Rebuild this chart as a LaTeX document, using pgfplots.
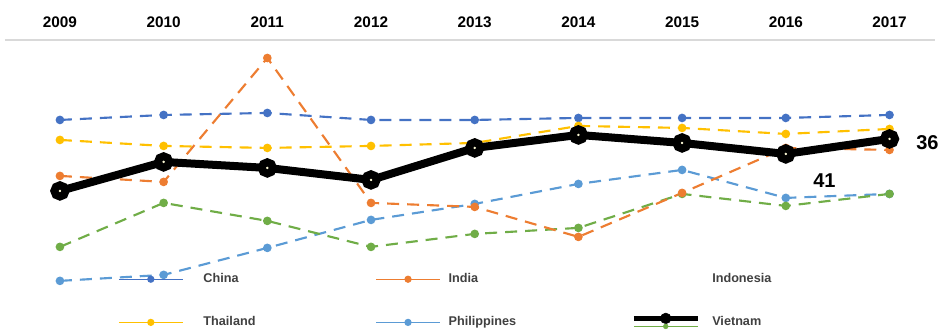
\documentclass[border=0pt]{standalone}
\usepackage{pgfplots}
\pgfplotsset{compat=1.18}
\usepackage{pgfplotstable}
\usepackage{fontspec}
\setmainfont{Liberation Sans}
\definecolor{cChina}{HTML}{4472C4}
\definecolor{cIndia}{HTML}{ED7D31}
\definecolor{cThai}{HTML}{FFC000}
\definecolor{cPhil}{HTML}{5B9BD5}
\definecolor{cViet}{HTML}{70AD47}
\definecolor{legtext}{HTML}{404040}
\pgfplotstableread{
year China India Thailand Philippines Vietnam Indonesia
2009 120 176 140 281 247 191
2010 115 182 146 275 203 162
2011 113 58  148 248 221 168
2012 120 203 146 220 247 180
2013 120 207 143 204 234 148
2014 118 237 126 184 228 135
2015 118 193 128 170 194 143
2016 118 148 134 198 206 154
2017 115 150 129 194 194 139
}\data
\begin{document}
\begin{tikzpicture}
\begin{axis}[
  scale only axis, width=697.5pt, height=216pt,
  xmin=2008.47, xmax=2017.434, ymin=40, ymax=328, y dir=reverse,
  separate axis lines,
  axis x line=top, hide y axis,
  x axis line style={-, draw=black!15, line width=1.2pt},
  major tick length=0pt,
  xtick={2009,2010,2011,2012,2013,2014,2015,2016,2017},
  xticklabels={2009,2010,2011,2012,2013,2014,2015,2016,2017},
  xticklabel style={font=\fontsize{11.5}{13}\selectfont\bfseries, anchor=center, yshift=13pt},
  clip=false,
  legend columns=3,
  legend cell align=left,
  legend style={draw=none, fill=none, inner sep=0pt, at={(axis cs:2009.559,273.5)}, anchor=north west,
    font=\fontsize{9.5}{11}\selectfont\bfseries, text=legtext, row sep=21pt,
    nodes={inner sep=0pt, outer sep=0pt},
    /tikz/every odd column/.append style={column sep=0pt},
    /tikz/every even column/.append style={column sep=0pt}},
  legend image code/.code={\draw[mark repeat=2,mark phase=2,#1,solid,line width=1pt] plot coordinates {(0pt,0pt) (24pt,0pt) (48pt,0pt)};},
  dline/.style={line width=1.6pt, dash pattern=on 9pt off 6pt, mark=*, mark size=2.4pt, mark options={solid}},
]
\path (axis cs:2008.422,0) rectangle (axis cs:2017.511,328);
\addplot[cChina, dline, forget plot] table[x=year,y=China]{\data};
\addplot[cThai, dline, forget plot] table[x=year,y=Thailand]{\data};
\addplot[cPhil, dline, forget plot] table[x=year,y=Philippines]{\data};
\addplot[cViet, dline, forget plot] table[x=year,y=Vietnam]{\data};
\addplot[cIndia, dline, forget plot] table[x=year,y=India]{\data};
\addplot[black, line width=6pt, mark=*, mark size=4.2pt, mark options={fill=black, draw=black}, forget plot] table[x=year,y=Indonesia]{\data};
\addplot[only marks, mark=*, mark size=0.7pt, white!85!yellow, forget plot] table[x=year,y=Indonesia]{\data};
\node[font=\fontsize{15}{15}\selectfont\bfseries] at (axis cs:2017.366,143) {36};
\node[font=\fontsize{15}{15}\selectfont\bfseries] at (axis cs:2016.373,181) {41};

\addlegendimage{cChina, mark=*, mark size=2.2pt}
\addlegendentry{\hspace*{15pt}\makebox[129pt][l]{China}}
\addlegendimage{cIndia, mark=*, mark size=2.2pt}
\addlegendentry{\hspace*{6pt}\makebox[137pt][l]{India}}
\addlegendimage{draw=none, legend image code/.code={\path[draw=none] (0pt,0pt) -- (48pt,0pt);}}
\addlegendentry{\hspace*{9pt}Indonesia}
\addlegendimage{cThai, mark=*, mark size=2.2pt}
\addlegendentry{\hspace*{15pt}\makebox[129pt][l]{Thailand}}
\addlegendimage{cPhil, mark=*, mark size=2.2pt}
\addlegendentry{\hspace*{6pt}\makebox[137pt][l]{Philippines}}
\addlegendimage{legend image code/.code={
  \draw[black, line width=3.8pt] (0pt,3pt) -- (48pt,3pt);
  \fill[black] (24pt,3pt) circle (4pt);
  \draw[cViet, line width=0.8pt] (0pt,-3pt) -- (48pt,-3pt);
  \fill[cViet] (24pt,-3pt) circle (1.8pt);}}
\addlegendentry{\hspace*{9pt}Vietnam}
\end{axis}
\end{tikzpicture}
\end{document}
